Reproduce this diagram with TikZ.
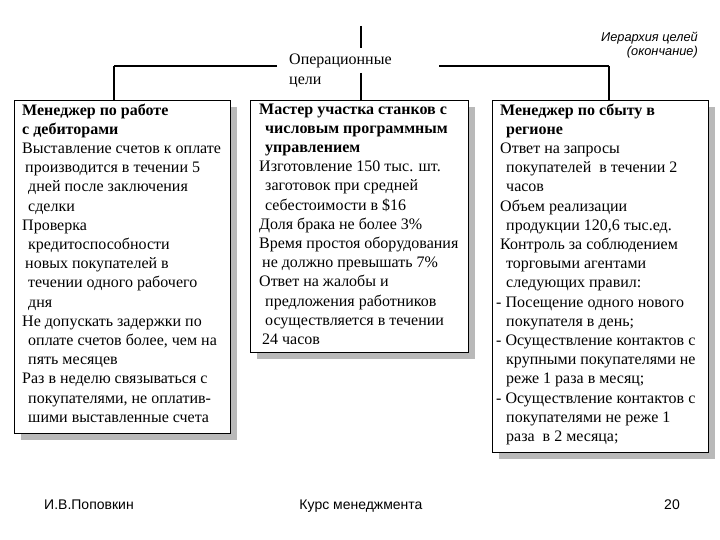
\documentclass[tikz,border=0pt]{standalone}
\usepackage{fontspec}
\setmainfont{Liberation Serif}
\newfontfamily\sansf{Liberation Sans}
\newcommand{\ia}{\hspace*{3pt}}
\newcommand{\ib}{\hspace*{6pt}}
\begin{document}
\begin{tikzpicture}[x=1pt,y=-1pt,
  boxnode/.style={draw=black, line width=1.1pt, fill=white, anchor=north west, inner sep=0pt},
  shadowfill/.style={fill=gray!55, draw=none},
  txt/.style={anchor=north west, inner sep=0pt, align=left, font=\fontsize{16}{19.2}\selectfont},
  conn/.style={line width=1.4pt},
  thickconn/.style={line width=2.4pt},
  foot/.style={anchor=base, inner sep=0pt, font=\sansf\fontsize{14}{16}\selectfont},
  hdr/.style={anchor=base east, inner sep=0pt, font=\sansf\itshape\fontsize{12.8}{14}\selectfont}
]
\useasboundingbox (0,0) rectangle (720,540);
\fill[white] (0,0) rectangle (720,540);

% shadows
\fill[shadowfill] (21,107) rectangle (237,440);
\fill[shadowfill] (257,107) rectangle (475,359);
\fill[shadowfill] (499,107) rectangle (715,459);

% boxes
\node[boxnode, minimum width=216pt, minimum height=333pt] (b1) at (14,100) {};
\node[boxnode, minimum width=218pt, minimum height=252pt] (b2) at (250,100) {};
\node[boxnode, minimum width=216pt, minimum height=352pt] (b3) at (492,100) {};

% header texts
\node[hdr] (h1) at (698,42) {Иерархия целей};
\node[hdr] (h2) at (698,56) {(окончание)};

% title
\node[anchor=north west, inner sep=0pt, align=left, font=\fontsize{16}{20}\selectfont] (op) at (289,53.5) {Операционные\\цели};

% connectors
\coordinate (top) at (361,26);
\coordinate (gapa) at (361,48);
\coordinate (gapb) at (361,73);
\coordinate (cl) at (114,66);
\coordinate (cr) at (609,66);
\coordinate (hl) at (277,66);
\coordinate (hr) at (439,66);
\coordinate (tl) at (171,66);
\coordinate (tr) at (549,66);
\draw[conn] (top) -- (gapa);
\draw[conn] (gapb) -- (gapb |- b2.north);
\draw[conn] (hl) -- (tl);
\draw[thickconn] (tl) -- (cl);
\draw[conn] (cl) -- (cl |- b1.north);
\draw[conn] (hr) -- (tr);
\draw[thickconn] (tr) -- (cr);
\draw[conn] (cr) -- (cr |- b3.north);

% box texts
\node[txt] (t1) at (22,103.5) {\textbf{Менеджер по работе}\\
\textbf{с дебиторами}\\
Выставление счетов к оплате\\
\ia производится в течении 5\\
\ib дней после заключения\\
\ib сделки\\
Проверка\\
\ib кредитоспособности\\
\ia новых покупателей в\\
\ib течении одного рабочего\\
\ib дня\\
Не допускать задержки по\\
\ib оплате счетов более, чем на\\
\ib пять месяцев\\
Раз в неделю связываться с\\
\ib покупателями, не оплатив-\\
\ib шими выставленные счета};

\node[txt] (t2) at (259,103.5) {\textbf{Мастер участка станков с}\\
\ib\textbf{числовым программным}\\
\ib\textbf{управлением}\\
Изготовление 150 тыс. шт.\\
\ib заготовок при средней\\
\ib себестоимости в \$16\\
Доля брака не более 3\%\\
Время простоя оборудования\\
\ia не должно превышать 7\%\\
Ответ на жалобы и\\
\ib предложения работников\\
\ib осуществляется в течении\\
\ia 24 часов};

\node[txt] (t3) at (500,103.5) {\textbf{Менеджер по сбыту в}\\
\ib\textbf{регионе}\\
Ответ на запросы\\
\ib покупателей~ в течении 2\\
\ib часов\\
Объем реализации\\
\ib продукции 120,6 тыс.ед.\\
Контроль за соблюдением\\
\ib торговыми агентами\\
\ib следующих правил:\\
\hspace*{-4pt}- Посещение одного нового\\
\ib покупателя в день;\\
\hspace*{-4pt}- Осуществление контактов с\\
\ib крупными покупателями не\\
\ib реже 1 раза в месяц;\\
\hspace*{-4pt}- Осуществление контактов с\\
\ib покупателями не реже 1\\
\ib раза~ в 2 месяца;};

% footer
\node[foot] (f1) at (89,509) {И.В.Поповкин};
\node[foot] (f2) at (361,509) {Курс менеджмента};
\node[foot, anchor=base east] (f3) at (680,509) {20};
\end{tikzpicture}
\end{document}
